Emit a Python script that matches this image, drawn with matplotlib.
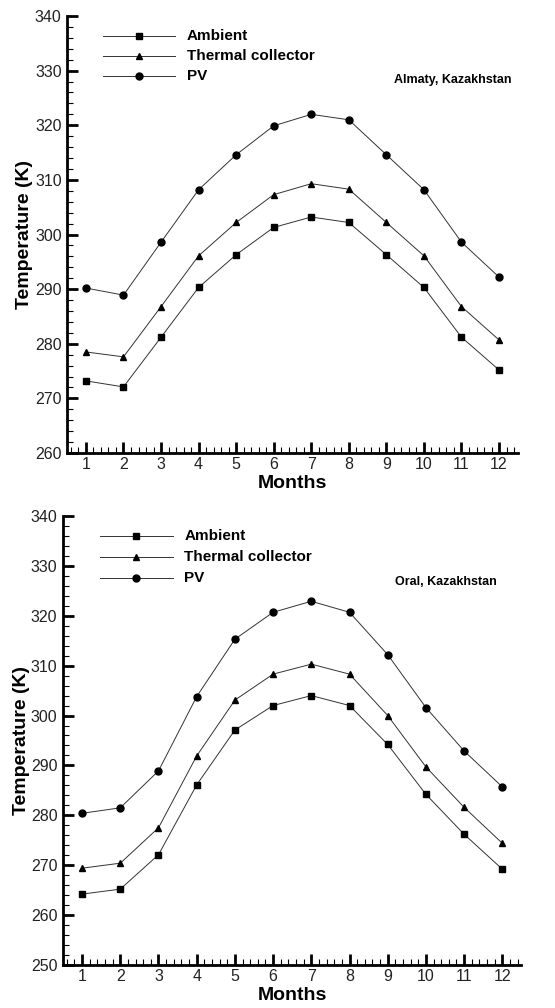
import numpy as np
import matplotlib.pyplot as plt
from matplotlib.ticker import MultipleLocator

# Month index
months = [1, 2, 3, 4, 5, 6, 7, 8, 9, 10, 11, 12]

# Almaty, Kazakhstan (K)
almaty_ambient = [273.2, 272.1, 281.2, 290.3, 296.3, 301.3, 303.2, 302.2, 296.3, 290.3, 281.2, 275.2]
almaty_thermal = [278.5, 277.6, 286.8, 296.1, 302.2, 307.3, 309.3, 308.3, 302.2, 296.1, 286.8, 280.7]
almaty_pv = [290.2, 288.9, 298.6, 308.2, 314.6, 319.9, 322.0, 321.0, 314.6, 308.2, 298.6, 292.2]

# Oral, Kazakhstan (K)
oral_ambient = [264.2, 265.2, 272.1, 286.1, 297.1, 302.0, 304.0, 302.0, 294.2, 284.2, 276.2, 269.2]
oral_thermal = [269.4, 270.4, 277.5, 291.9, 303.1, 308.3, 310.3, 308.3, 300.0, 289.7, 281.6, 274.4]
oral_pv = [280.4, 281.5, 288.9, 303.8, 315.3, 320.7, 322.9, 320.7, 312.2, 301.6, 292.9, 285.7]

series_names = ['Ambient', 'Thermal collector', 'PV']
markers = ['s', '^', 'o']

plt.rcParams['font.family'] = ['Liberation Sans', 'DejaVu Sans']


def draw_panel(ax, data, ylim, place, ylabel_x):
    for vals, m in zip(data, markers):
        ax.plot(months, vals, color='#333333', lw=0.7, marker=m,
                markersize=5 if m != '^' else 4.5, markerfacecolor='black',
                markeredgecolor='black')

    ax.set_xlim(0.5, 12.5)
    ax.set_ylim(*ylim)
    ax.xaxis.set_major_locator(MultipleLocator(1))
    ax.xaxis.set_minor_locator(MultipleLocator(0.2))
    ax.yaxis.set_major_locator(MultipleLocator(10))
    ax.yaxis.set_minor_locator(MultipleLocator(2))
    ax.tick_params(which='major', direction='in', length=8, width=2,
                   labelsize=11.5, colors='black')
    ax.tick_params(which='minor', direction='in', length=4, width=0.8)
    ax.tick_params(axis='y', which='major', pad=4)
    ax.tick_params(axis='x', which='major', pad=3)
    for lab in ax.get_xticklabels() + ax.get_yticklabels():
        lab.set_color('#222222')

    ax.spines['top'].set_visible(False)
    ax.spines['right'].set_visible(False)
    ax.spines['left'].set_linewidth(2)
    ax.spines['bottom'].set_linewidth(2)

    ax.set_xlabel('Months', fontsize=14, fontweight='bold', labelpad=2)
    ax.set_ylabel('Temperature (K)', fontsize=14, fontweight='bold')
    ax.yaxis.set_label_coords(ylabel_x, 0.5)

    # hand-made legend like the original figure
    for i, (name, m) in enumerate(zip(series_names, markers)):
        yy = 0.955 - i * 0.046
        ax.plot([0.08, 0.24], [yy, yy], transform=ax.transAxes, color='#333333',
                lw=0.7, clip_on=False)
        ax.plot([0.16], [yy], transform=ax.transAxes, marker=m, color='black',
                markersize=5 if m != '^' else 4.5, clip_on=False)
        ax.text(0.265, yy, name, transform=ax.transAxes, fontsize=11,
                fontweight='bold', va='center', ha='left')

    ax.text(0.725, 0.853, place, transform=ax.transAxes, fontsize=9,
            fontweight='bold', va='center', ha='left')


fig = plt.figure(figsize=(5.55, 10.08), dpi=100)
ax1 = fig.add_axes([0.121, 0.5506, 0.812, 0.4335])
ax2 = fig.add_axes([0.1135, 0.0427, 0.826, 0.4454])

draw_panel(ax1, [almaty_ambient, almaty_thermal, almaty_pv], (260, 340),
           'Almaty, Kazakhstan', -0.075)
draw_panel(ax2, [oral_ambient, oral_thermal, oral_pv], (250, 340),
           'Oral, Kazakhstan', -0.072)

fig.savefig('out.png', dpi=100)
